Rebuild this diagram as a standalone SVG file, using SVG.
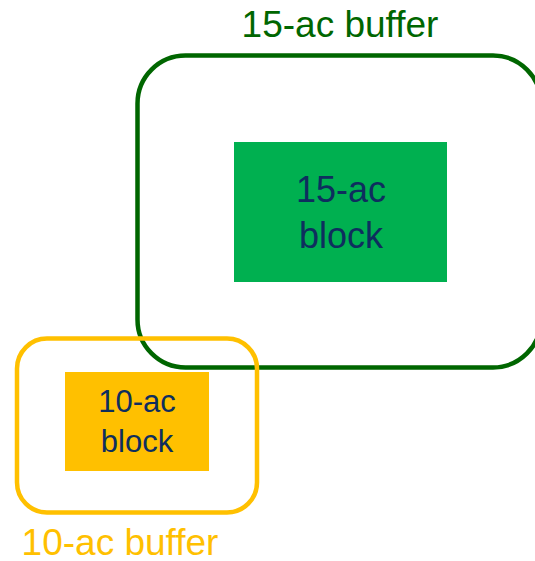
<svg xmlns="http://www.w3.org/2000/svg" width="535" height="561" viewBox="0 0 535 561">
<style>
.lbl{font-family:"Liberation Sans",Arial,sans-serif;text-anchor:middle}
.blk{fill:#0E2E5E}
</style>
<rect width="535" height="561" fill="#fff"/>
<g id="buffer15">
<rect x="137.5" y="55.5" width="403.5" height="312" rx="48" fill="none" stroke="#006600" stroke-width="4.5"/>
<text class="lbl" x="340" y="37" font-size="37" fill="#006600">15-ac buffer</text>
</g>
<g id="block15">
<rect x="234" y="142" width="213" height="140" fill="#00B050"/>
<text class="lbl blk" x="341" y="202" font-size="36">15-ac</text>
<text class="lbl blk" x="341" y="248" font-size="36">block</text>
</g>
<g id="buffer10">
<rect x="17" y="338.5" width="240" height="174" rx="30" fill="none" stroke="#FFC000" stroke-width="4.5"/>
<text class="lbl" x="120" y="555" font-size="37" fill="#FFC000">10-ac buffer</text>
</g>
<g id="block10">
<rect x="65" y="372" width="144" height="99" fill="#FFC000"/>
<text class="lbl blk" x="137" y="412" font-size="31">10-ac</text>
<text class="lbl blk" x="137" y="452" font-size="31">block</text>
</g>
<g id="connectors"/>
</svg>
